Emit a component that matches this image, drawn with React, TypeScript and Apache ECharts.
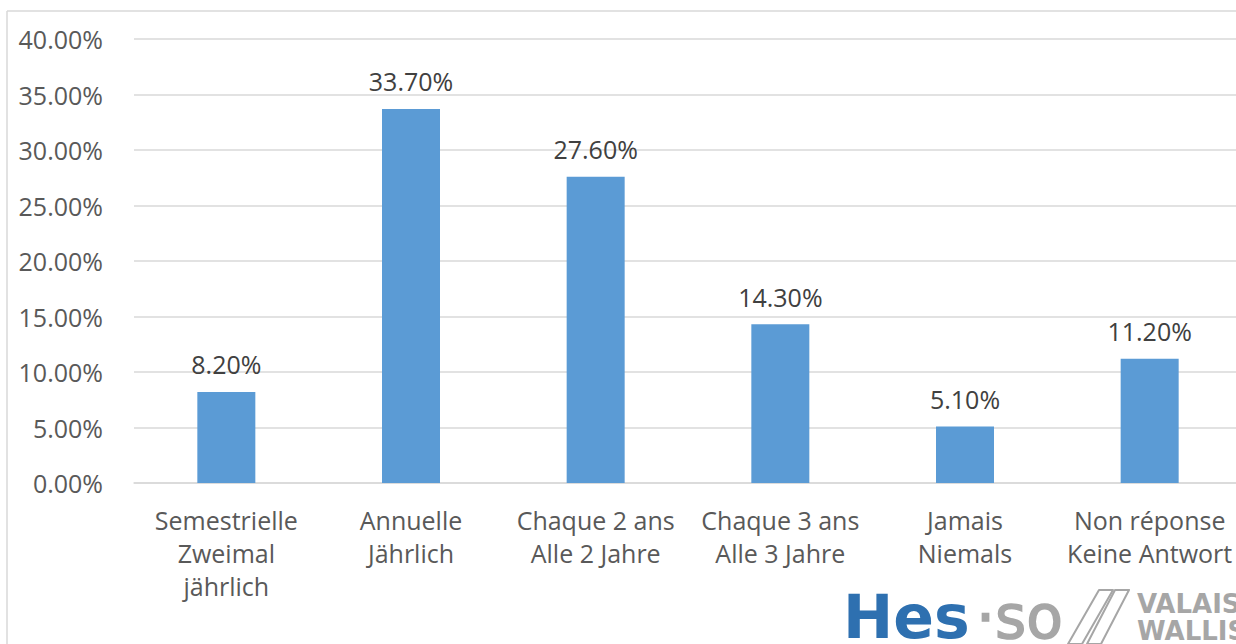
import React, { useEffect, useRef } from "react";
import * as echarts from "echarts";

const categories = [
  "Semestrielle\nZweimal\njährlich",
  "Annuelle\nJährlich",
  "Chaque 2 ans\nAlle 2 Jahre",
  "Chaque 3 ans\nAlle 3 Jahre",
  "Jamais\nNiemals",
  "Non réponse\nKeine Antwort",
];
const values = [8.2, 33.7, 27.6, 14.3, 5.1, 11.2];
const yMin = 0;
const yMax = 40;
const yStep = 5;

const FONT = "'Open Sans', 'Noto Sans', sans-serif";
const LOGO_FONT = "'DejaVu Sans', sans-serif";
const TEXT = "#595959";
const GRID = "#D9D9D9";
const BAR = "#5B9BD5";
const LOGO_GRAY = "#A6A6A6";

export default function App() {
  const ref = useRef<HTMLDivElement>(null);
  useEffect(() => {
    if (!ref.current) return;
    const chart = echarts.init(ref.current, undefined, { renderer: "svg" });
    chart.setOption({
      animation: false,
      backgroundColor: "#ffffff",
      grid: { left: 134, right: 0, top: 39, bottom: 161, containLabel: false },
      xAxis: {
        type: "category",
        data: categories,
        axisLine: { show: true, lineStyle: { color: GRID, width: 1.5 } },
        axisTick: { show: false },
        axisLabel: {
          interval: 0,
          color: TEXT,
          fontFamily: FONT,
          fontSize: 25,
          lineHeight: 33,
          margin: 20,
        },
      },
      yAxis: {
        type: "value",
        min: yMin,
        max: yMax,
        interval: yStep,
        axisLine: { show: false },
        axisTick: { show: false },
        splitLine: { lineStyle: { color: GRID, width: 1.5 } },
        axisLabel: {
          color: TEXT,
          fontFamily: FONT,
          fontSize: 25,
          margin: 31,
          formatter: (v: number) => v.toFixed(2) + "%",
        },
      },
      series: [
        {
          type: "bar",
          data: values,
          barWidth: 58,
          itemStyle: { color: BAR },
          label: {
            show: true,
            position: "top",
            distance: 15,
            color: "#404040",
            fontFamily: FONT,
            fontSize: 25,
            formatter: (p: any) => p.value.toFixed(2) + "%",
          },
        },
      ],
      graphic: [
        { type: "line", shape: { x1: 7, y1: 11, x2: 1242, y2: 11 }, style: { stroke: GRID, lineWidth: 1.5 } },
        { type: "line", shape: { x1: 7, y1: 11, x2: 7, y2: 644 }, style: { stroke: GRID, lineWidth: 1.5 } },
        {
          type: "text",
          x: 843,
          y: 617,
          style: { text: "Hes", font: `bold 60px ${LOGO_FONT}`, fill: "#2E70B0", textVerticalAlign: "middle" },
        },
        {
          type: "text",
          x: 976,
          y: 617,
          style: { text: "·so", font: `60px ${LOGO_FONT}`, fill: LOGO_GRAY, stroke: LOGO_GRAY, lineWidth: 1.5, textVerticalAlign: "middle" },
        },
        {
          type: "polygon",
          shape: { points: [[1068, 644], [1082, 644], [1113, 590], [1099, 590]] },
          style: { fill: "none", stroke: LOGO_GRAY, lineWidth: 2, lineJoin: "round" },
        },
        {
          type: "polygon",
          shape: { points: [[1087, 644], [1101, 644], [1129, 590], [1115, 590]] },
          style: { fill: "none", stroke: LOGO_GRAY, lineWidth: 2, lineJoin: "round" },
        },
        {
          type: "text",
          x: 1137,
          y: 604,
          style: { text: "VALAIS", font: `bold 26px ${LOGO_FONT}`, fill: LOGO_GRAY, textVerticalAlign: "middle" },
        },
        {
          type: "text",
          x: 1137,
          y: 631,
          style: { text: "WALLIS", font: `bold 26px ${LOGO_FONT}`, fill: LOGO_GRAY, textVerticalAlign: "middle" },
        },
      ],
    });
    return () => chart.dispose();
  }, []);
  return (
    <div style={{ position: "fixed", left: 0, top: 0, width: 1236, height: 644, overflow: "hidden", background: "#fff" }}>
      <div ref={ref} style={{ width: 1242, height: 644 }} />
    </div>
  );
}
